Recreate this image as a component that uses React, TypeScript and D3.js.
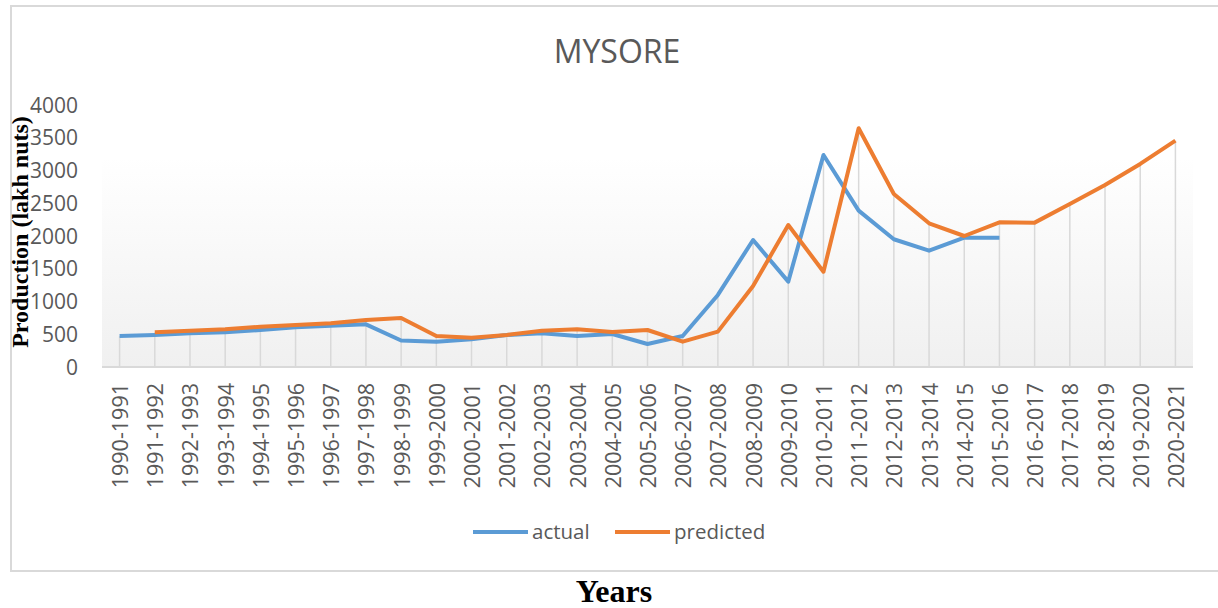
import React, { useEffect, useRef } from 'react';
import * as d3 from 'd3';

const categories = [
  '1990-1991', '1991-1992', '1992-1993', '1993-1994', '1994-1995', '1995-1996',
  '1996-1997', '1997-1998', '1998-1999', '1999-2000', '2000-2001', '2001-2002',
  '2002-2003', '2003-2004', '2004-2005', '2005-2006', '2006-2007', '2007-2008',
  '2008-2009', '2009-2010', '2010-2011', '2011-2012', '2012-2013', '2013-2014',
  '2014-2015', '2015-2016', '2016-2017', '2017-2018', '2018-2019', '2019-2020',
  '2020-2021'
];

const actual: (number | null)[] = [
  473, 489, 514, 530, 565, 606, 631, 651, 405, 387, 423, 489, 514, 473, 504, 351,
  473, 1100, 1939, 1303, 3237, 2387, 1950, 1776, 1975, 1975,
  null, null, null, null, null
];

const predicted: (number | null)[] = [
  null, 530, 555, 575, 616, 641, 667, 718, 748, 473, 448, 489, 555, 575, 534, 565,
  387, 540, 1237, 2168, 1455, 3645, 2642, 2194, 2000, 2209, 2204, 2489, 2779, 3100,
  3456
];

const yTicks = [0, 500, 1000, 1500, 2000, 2500, 3000, 3500, 4000];

const seriesNames = ['actual', 'predicted'];
const seriesColors = ['#5b9bd5', '#ed7d31'];

const App = () => {
  const ref = useRef<SVGSVGElement>(null);

  useEffect(() => {
    const width = 1218;
    const height = 608;
    const plot = { left: 102, right: 1193, top: 105, bottom: 367 };

    const svg = d3.select(ref.current);
    svg.selectAll('*').remove();

    const x = d3.scaleBand<string>()
      .domain(categories)
      .range([plot.left, plot.right]);
    const cx = (c: string) => (x(c) as number) + x.bandwidth() / 2;

    const y = d3.scaleLinear().domain([0, 4000]).range([plot.bottom, plot.top]);

    svg.append('rect')
      .attr('width', width)
      .attr('height', height)
      .attr('fill', '#ffffff');

    // chart frame (right edge is cut off in the original)
    svg.append('rect')
      .attr('x', 11)
      .attr('y', 6)
      .attr('width', 1230)
      .attr('height', 565)
      .attr('fill', '#ffffff')
      .attr('stroke', '#d9d9d9')
      .attr('stroke-width', 2);

    const grad = svg.append('defs')
      .append('linearGradient')
      .attr('id', 'plotBg')
      .attr('x1', 0).attr('y1', 0)
      .attr('x2', 0).attr('y2', 1);
    grad.append('stop').attr('offset', '0%').attr('stop-color', '#ffffff');
    grad.append('stop').attr('offset', '20%').attr('stop-color', '#ffffff');
    grad.append('stop').attr('offset', '100%').attr('stop-color', '#f0f0f0');

    svg.append('rect')
      .attr('x', plot.left)
      .attr('y', plot.top)
      .attr('width', plot.right - plot.left)
      .attr('height', plot.bottom - plot.top)
      .attr('fill', 'url(#plotBg)');

    svg.append('text')
      .attr('x', 617)
      .attr('y', 63)
      .attr('text-anchor', 'middle')
      .style('font-family', '"Open Sans", sans-serif')
      .style('font-size', '32px')
      .style('fill', '#595959')
      .text('MYSORE');

    // drop lines from the higher point down to the axis
    svg.append('g')
      .selectAll('line')
      .data(categories)
      .enter()
      .append('line')
      .attr('x1', d => cx(d))
      .attr('x2', d => cx(d))
      .attr('y1', plot.bottom)
      .attr('y2', (_, i) => {
        const vals = [actual[i], predicted[i]].filter(v => v != null) as number[];
        return y(d3.max(vals) ?? 0);
      })
      .attr('stroke', '#d9d9d9')
      .attr('stroke-width', 1.5);

    svg.append('line')
      .attr('x1', plot.left)
      .attr('x2', plot.right)
      .attr('y1', plot.bottom)
      .attr('y2', plot.bottom)
      .attr('stroke', '#d9d9d9')
      .attr('stroke-width', 2);

    svg.append('g')
      .selectAll('text')
      .data(yTicks)
      .enter()
      .append('text')
      .attr('x', 78)
      .attr('y', d => y(d))
      .attr('dy', '0.36em')
      .attr('text-anchor', 'end')
      .style('font-family', '"Open Sans", sans-serif')
      .style('font-size', '21px')
      .style('fill', '#595959')
      .text(d => d);

    svg.append('g')
      .selectAll('text')
      .data(categories)
      .enter()
      .append('text')
      .attr('transform', d => `translate(${cx(d) + 8.5},383) rotate(-90)`)
      .attr('text-anchor', 'end')
      .style('font-family', '"Open Sans", sans-serif')
      .style('font-size', '21.5px')
      .style('fill', '#595959')
      .text(d => d);

    const line = d3.line<number | null>()
      .defined(d => d != null)
      .x((_, i) => cx(categories[i]))
      .y(d => y(d as number));

    [actual, predicted].forEach((values, k) => {
      svg.append('path')
        .datum(values)
        .attr('d', line)
        .attr('fill', 'none')
        .attr('stroke', seriesColors[k])
        .attr('stroke-width', 4)
        .attr('stroke-linejoin', 'round');
    });

    // legend
    const legendX = [473, 615];
    seriesNames.forEach((name, k) => {
      svg.append('line')
        .attr('x1', legendX[k])
        .attr('x2', legendX[k] + 55)
        .attr('y1', 532)
        .attr('y2', 532)
        .attr('stroke', seriesColors[k])
        .attr('stroke-width', 4);
      svg.append('text')
        .attr('x', legendX[k] + 59)
        .attr('y', 539)
        .style('font-family', '"Open Sans", sans-serif')
        .style('font-size', '20.5px')
        .style('fill', '#595959')
        .text(name);
    });

    svg.append('text')
      .attr('transform', 'translate(28,232) rotate(-90)')
      .attr('text-anchor', 'middle')
      .style('font-family', '"Liberation Serif", "Times New Roman", serif')
      .style('font-weight', 'bold')
      .style('font-size', '24px')
      .style('fill', '#000000')
      .text('Production (lakh nuts)');

    svg.append('text')
      .attr('x', 614)
      .attr('y', 602)
      .attr('text-anchor', 'middle')
      .style('font-family', '"Liberation Serif", "Times New Roman", serif')
      .style('font-weight', 'bold')
      .style('font-size', '32px')
      .style('fill', '#000000')
      .text('Years');
  }, []);

  return (
    <svg
      ref={ref}
      width={1218}
      height={608}
      style={{ position: 'absolute', left: 0, top: 0, display: 'block' }}
    />
  );
};

export default App;
